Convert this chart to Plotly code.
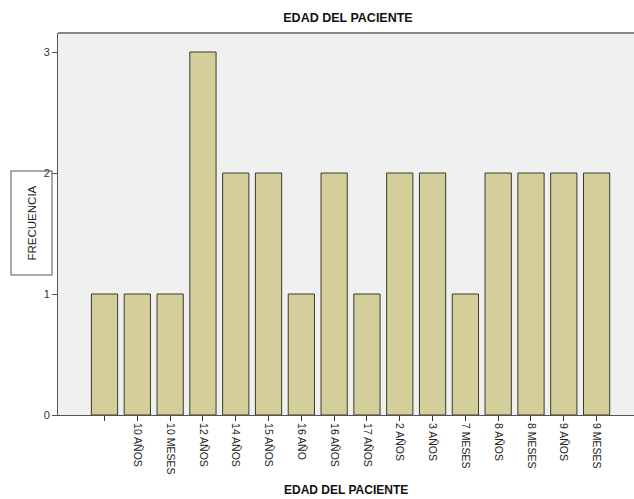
import plotly.graph_objects as go

categories = [" ", "10 AÑOS", "10 MESES", "12 AÑOS", "14 AÑOS", "15 AÑOS", "16 AÑO",
              "16 AÑOS", "17 AÑOS", "2 AÑOS", "3 AÑOS", "7 MESES", "8 AÑOS",
              "8 MESES", "9 AÑOS", "9 MESES"]
frecuencia = [1, 1, 1, 3, 2, 2, 1, 2, 1, 2, 2, 1, 2, 2, 2, 2]
y_ticks = [0, 1, 2, 3]

fig = go.Figure(go.Bar(
    x=categories, y=frecuencia, width=0.8,
    marker=dict(color="#D4CF9A", line=dict(color="#3a3a2a", width=1)),
))

W, H = 634, 499
l, r, t, b = 58, 0, 33, 84
PW, PH = W - l - r, H - t - b
y0_win = 415

fig.update_layout(
    width=W, height=H,
    margin=dict(l=l, r=r, t=t, b=b),
    paper_bgcolor="white", plot_bgcolor="#F0F0F0",
    font=dict(family="Liberation Sans, Arial, sans-serif", color="#222"),
    showlegend=False,
    title=dict(text="<b>EDAD DEL PACIENTE</b>", x=348 / W, xanchor="center",
               y=1 - 18 / H, yanchor="middle", font=dict(size=12.5, color="#111")),
    xaxis=dict(type="category", range=[-1.418, 16.14], tickangle=90,
               ticks="outside", ticklen=5, tickcolor="#333", tickfont=dict(size=10.5, color="#222"),
               showline=True, linecolor="#555", linewidth=1, showgrid=False,
               fixedrange=True),
    yaxis=dict(range=[0, 3.157], tickvals=y_ticks, ticks="outside", ticklen=5,
               tickcolor="#555", tickfont=dict(size=11, color="#333"),
               showline=True, linecolor="#555", linewidth=1, showgrid=False,
               zeroline=False, mirror=False),
    shapes=[dict(type="line", xref="paper", yref="paper", x0=0, x1=1, y0=1, y1=1,
                 line=dict(color="#888", width=2))],
    annotations=[
        dict(text="<b>EDAD DEL PACIENTE</b>", xref="paper", yref="paper",
             x=(346 - l) / PW, y=-(490 - y0_win) / PH,
             xanchor="center", yanchor="middle", showarrow=False,
             font=dict(size=12, color="#111")),
        dict(text="FRECUENCIA", xref="paper", yref="paper",
             x=-(58 - 31.5) / PW, y=(y0_win - 223) / PH,
             xanchor="center", yanchor="middle", showarrow=False, textangle=-90,
             font=dict(size=11.5, color="#222"), bordercolor="#555", borderwidth=1,
             bgcolor="rgba(0,0,0,0)", borderpad=14),
    ],
)

fig.write_html("out.html", config={"displayModeBar": False, "staticPlot": True},
               post_script="document.body.style.margin='0';document.body.style.overflow='hidden';")
